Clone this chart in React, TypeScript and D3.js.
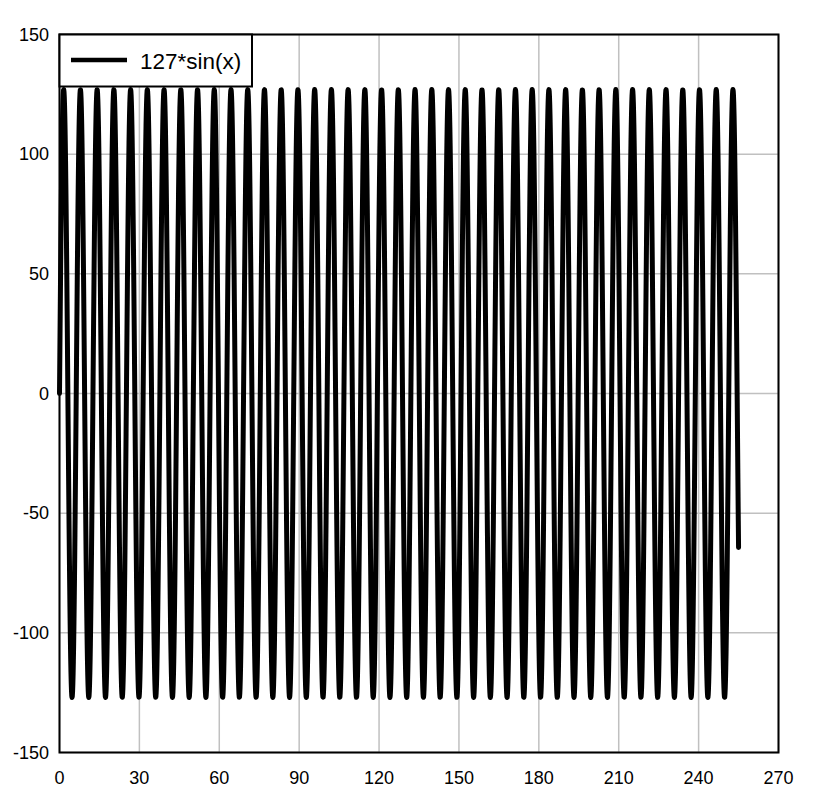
import React from "react";
import * as d3 from "d3";

// Series defined by its legend: 127*sin(x), sampled from x = 0 to x = 255
const SERIES_LABEL = "127*sin(x)";
const AMPLITUDE = 127;
const X_START = 0;
const X_END = 255;
const SAMPLE_STEP = 0.1;

const X_TICKS = [0, 30, 60, 90, 120, 150, 180, 210, 240, 270];
const Y_TICKS = [-150, -100, -50, 0, 50, 100, 150];

const W = 815;
const H = 800;
const M = { left: 59.5, right: 778.5, top: 34.5, bottom: 752.5 };

export default function App() {
  const x = d3.scaleLinear().domain([0, 270]).range([M.left, M.right]);
  const y = d3.scaleLinear().domain([-150, 150]).range([M.bottom, M.top]);

  const n = Math.round((X_END - X_START) / SAMPLE_STEP);
  const xs = d3.range(n + 1).map((i) => X_START + i * SAMPLE_STEP);
  const data = xs.map((v) => [v, AMPLITUDE * Math.sin(v)] as [number, number]);

  const line = d3
    .line<[number, number]>()
    .x((d) => x(d[0]))
    .y((d) => y(d[1]));

  const font = "Arial, 'Liberation Sans', sans-serif";

  return (
    <svg
      width={W}
      height={H}
      style={{ position: "absolute", left: 0, top: 0, background: "#fff" }}
    >
      <rect x={0} y={0} width={W} height={H} fill="#fff" />
      {/* grid */}
      {X_TICKS.map((t) => (
        <line
          key={"gx" + t}
          x1={x(t)}
          x2={x(t)}
          y1={M.top}
          y2={M.bottom}
          stroke="#c0c0c0"
          strokeWidth={1.5}
        />
      ))}
      {Y_TICKS.map((t) => (
        <line
          key={"gy" + t}
          x1={M.left}
          x2={M.right}
          y1={y(t)}
          y2={y(t)}
          stroke="#c0c0c0"
          strokeWidth={1.5}
        />
      ))}
      {/* series */}
      <path
        d={line(data) || ""}
        fill="none"
        stroke="#000"
        strokeWidth={5}
        strokeLinejoin="round"
        strokeLinecap="round"
      />
      {/* frame */}
      <rect
        x={M.left}
        y={M.top}
        width={M.right - M.left}
        height={M.bottom - M.top}
        fill="none"
        stroke="#000"
        strokeWidth={2}
      />
      {/* tick labels */}
      {Y_TICKS.map((t) => (
        <text
          key={"ty" + t}
          x={49}
          y={y(t)}
          dy="0.35em"
          textAnchor="end"
          fontFamily={font}
          fontSize={18}
          fill="#000"
        >
          {t}
        </text>
      ))}
      {X_TICKS.map((t) => (
        <text
          key={"tx" + t}
          x={x(t)}
          y={784}
          textAnchor="middle"
          fontFamily={font}
          fontSize={18}
          fill="#000"
        >
          {t}
        </text>
      ))}
      {/* legend */}
      <rect
        x={M.left}
        y={M.top}
        width={252 - M.left}
        height={86.5 - M.top}
        fill="#fff"
        stroke="#000"
        strokeWidth={2}
      />
      <line x1={71} x2={127} y1={60} y2={60} stroke="#000" strokeWidth={4.5} />
      <text x={140} y={68.5} fontFamily={font} fontSize={22.5} fill="#000">
        {SERIES_LABEL}
      </text>
    </svg>
  );
}
